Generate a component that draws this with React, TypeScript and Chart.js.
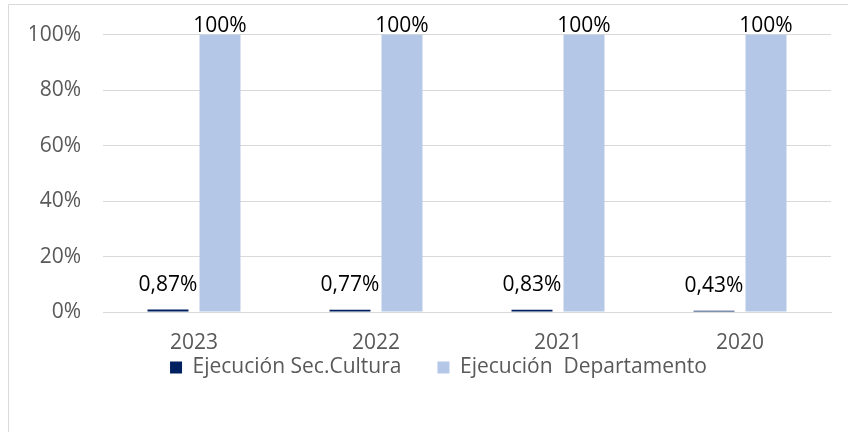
import React, { useEffect, useRef } from "react";
import { Chart, registerables } from "chart.js";

Chart.register(...registerables);

const categories = ["2023", "2022", "2021", "2020"];
const secCultura = [0.87, 0.77, 0.83, 0.43];
const departamento = [100, 100, 100, 100];
const seriesNames = ["Ejecución Sec.Cultura", "Ejecución  Departamento"];
const yTicks = [0, 20, 40, 60, 80, 100];

const FONT = "'Open Sans', 'Noto Sans', sans-serif";
const FONT_SIZE = 21;
const LEGEND_SHIFT_Y = 36;
const LEGEND_SHIFT_X = 8;

function fmt(v: number): string {
  if (Number.isInteger(v)) return v + "%";
  return v.toFixed(2).replace(".", ",") + "%";
}

const borderPlugin = {
  id: "outerBorder",
  beforeDraw(chart: any) {
    const ctx = chart.ctx;
    ctx.save();
    ctx.fillStyle = "#ffffff";
    ctx.fillRect(0, 0, chart.width, chart.height);
    ctx.strokeStyle = "#d9d9d9";
    ctx.lineWidth = 1;
    ctx.beginPath();
    ctx.moveTo(8.5, chart.height + 5);
    ctx.lineTo(8.5, 4.5);
    ctx.lineTo(chart.width + 5, 4.5);
    ctx.stroke();
    ctx.restore();
  },
};

const legendShiftPlugin = {
  id: "legendShift",
  afterLayout(chart: any) {
    const lg = chart.legend;
    if (lg) {
      lg.top -= LEGEND_SHIFT_Y;
      lg.bottom -= LEGEND_SHIFT_Y;
      lg.left += LEGEND_SHIFT_X;
      lg.right += LEGEND_SHIFT_X;
    }
  },
};

const labelPlugin = {
  id: "valueLabels",
  afterDatasetsDraw(chart: any) {
    const ctx = chart.ctx;
    ctx.save();
    ctx.font = `${FONT_SIZE}px ${FONT}`;
    ctx.fillStyle = "#000000";
    ctx.textAlign = "center";
    ctx.textBaseline = "bottom";
    chart.data.datasets.forEach((ds: any, di: number) => {
      const meta = chart.getDatasetMeta(di);
      const offset = di === 0 ? 14 : -2;
      meta.data.forEach((el: any, i: number) => {
        ctx.fillText(fmt(ds.data[i]), el.x, el.y - offset);
      });
    });
    ctx.restore();
  },
};

export default function App() {
  const ref = useRef<HTMLCanvasElement | null>(null);
  useEffect(() => {
    if (!ref.current) return;
    const chart = new Chart(ref.current, {
      type: "bar",
      data: {
        labels: categories,
        datasets: [
          {
            label: seriesNames[0],
            data: secCultura,
            backgroundColor: "#002060",
            categoryPercentage: 0.5714,
            barPercentage: 0.788,
          },
          {
            label: seriesNames[1],
            data: departamento,
            backgroundColor: "#b4c7e7",
            categoryPercentage: 0.5714,
            barPercentage: 0.788,
          },
        ],
      },
      options: {
        responsive: false,
        animation: false,
        layout: { padding: { left: 30, right: 17, top: 33, bottom: 8 } },
        scales: {
          x: {
            grid: { display: false, drawTicks: false },
            border: { display: true, color: "#d9d9d9" },
            ticks: {
              color: "#595959",
              font: { family: FONT, size: FONT_SIZE },
              padding: 18,
            },
            afterFit(scale: any) {
              scale.height = 45;
            },
          },
          y: {
            min: 0,
            max: 100,
            afterBuildTicks(scale: any) {
              scale.ticks = yTicks.map((v) => ({ value: v }));
            },
            grid: { color: "#d9d9d9", drawTicks: false },
            border: { display: false },
            ticks: {
              color: "#595959",
              font: { family: FONT, size: FONT_SIZE },
              padding: 22,
              callback: (v: any) => v + "%",
            },
            afterFit(scale: any) {
              scale.width = 73;
            },
          },
        },
        plugins: {
          legend: {
            position: "bottom",
            labels: {
              boxWidth: 12,
              boxHeight: 12,
              padding: 36,
              color: "#595959",
              font: { family: FONT, size: FONT_SIZE },
            },
          },
          tooltip: { enabled: false },
        },
      },
      plugins: [borderPlugin, legendShiftPlugin, labelPlugin],
    });
    return () => chart.destroy();
  }, []);
  return (
    <div style={{ position: "fixed", left: 0, top: 0, width: 848, height: 432 }}>
      <canvas ref={ref} width={848} height={432} />
    </div>
  );
}
